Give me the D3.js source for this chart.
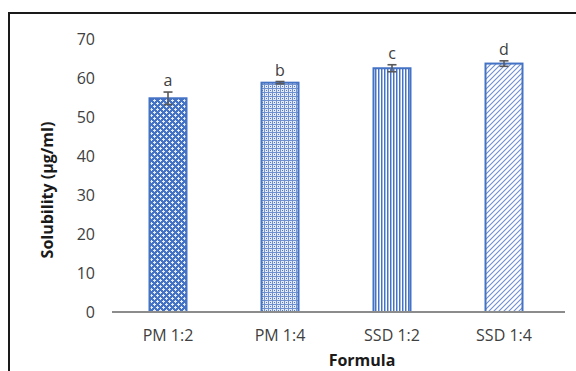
<!DOCTYPE html>
<html><head><meta charset="utf-8">
<script src="https://cdn.jsdelivr.net/npm/d3@7"></script>
<style>
html,body{margin:0;padding:0;background:#fff;}
svg{display:block;font-family:"Open Sans",sans-serif;}
</style></head>
<body>
<svg id="c" width="576" height="371"></svg>
<script>
const categories = ["PM 1:2", "PM 1:4", "SSD 1:2", "SSD 1:4"];
const values = [54.8, 58.8, 62.5, 63.7];
const errors = [1.6, 0.3, 0.9, 0.7];
const letters = ["a", "b", "c", "d"];
const yTicks = [0, 10, 20, 30, 40, 50, 60, 70];
const patternIds = ["p1", "p2", "p3", "p4"];

const svg = d3.select("#c");
const blue = "#4472C4";
const defs = svg.append("defs");

// pattern 1: blue with white diamond lattice
const p1 = defs.append("pattern").attr("id","p1").attr("patternUnits","userSpaceOnUse").attr("width",6).attr("height",6);
p1.append("rect").attr("width",6).attr("height",6).attr("fill",blue);
[[1,0],[0,1],[2,1],[1,2],[4,3],[3,4],[5,4],[4,5],[1,1],[4,4]].forEach(([px,py])=>{
  p1.append("rect").attr("x",px).attr("y",py).attr("width",1).attr("height",1).attr("fill","#e6ecf8");
});
// pattern 2: white with blue dotted grid
const p2 = defs.append("pattern").attr("id","p2").attr("patternUnits","userSpaceOnUse").attr("width",4).attr("height",4);
p2.append("rect").attr("width",4).attr("height",4).attr("fill","#e4ebf7");
p2.append("rect").attr("x",0).attr("y",0).attr("width",4).attr("height",1).attr("fill","#6f91d0");
p2.append("rect").attr("x",0).attr("y",0).attr("width",1).attr("height",4).attr("fill","#6f91d0");
p2.append("rect").attr("x",2).attr("y",2).attr("width",1).attr("height",1).attr("fill","#4f78c6");
// pattern 3: vertical stripes
const p3 = defs.append("pattern").attr("id","p3").attr("patternUnits","userSpaceOnUse").attr("width",3).attr("height",4);
p3.append("rect").attr("width",3).attr("height",4).attr("fill","#ffffff");
p3.append("rect").attr("x",0).attr("width",1.4).attr("height",4).attr("fill",blue);
p3.append("rect").attr("x",1.4).attr("width",0.6).attr("height",4).attr("fill","#9fb6e2");
// pattern 4: upward diagonal
const p4 = defs.append("pattern").attr("id","p4").attr("patternUnits","userSpaceOnUse").attr("width",5).attr("height",5);
p4.append("rect").attr("width",5).attr("height",5).attr("fill","#ffffff");
p4.append("path").attr("d","M-1,6 L6,-1 M-1,1 L1,-1 M4,6 L6,4").attr("stroke","#6f8fd0").attr("stroke-width",1.1);

const x = d3.scaleBand().domain(categories).range([112, 560]).paddingInner(0.67).paddingOuter(0.335);
const y = d3.scaleLinear().domain([0, 70]).range([312, 39]);

// outer border (left and top only visible)
svg.append("path").attr("d","M9,371 L9,13 L576,13").attr("fill","none").attr("stroke","#1a1a1a").attr("stroke-width",2);

// y tick labels
svg.append("g").selectAll("text").data(yTicks).join("text")
  .attr("x", 95).attr("y", d => y(d)).attr("dy","0.35em")
  .attr("text-anchor","end").attr("font-size",16).attr("fill","#404040")
  .text(d => d);

// bars
const bw = 37;
svg.append("g").selectAll("rect").data(values).join("rect")
  .attr("x", (d,i) => x(categories[i]) + x.bandwidth()/2 - bw/2)
  .attr("y", d => y(d))
  .attr("width", bw)
  .attr("height", d => y(0) - y(d))
  .attr("fill", (d,i) => `url(#${patternIds[i]})`)
  .attr("stroke", blue).attr("stroke-width", 2);

// baseline
svg.append("line").attr("x1",112).attr("x2",565).attr("y1",y(0)).attr("y2",y(0))
  .attr("stroke","#8c8c8c").attr("stroke-width",2);

// error bars
const eg = svg.append("g").attr("stroke","#595959").attr("stroke-width",1.6);
values.forEach((v,i) => {
  const cx = x(categories[i]) + x.bandwidth()/2;
  const e = errors[i];
  eg.append("line").attr("x1",cx).attr("x2",cx).attr("y1",y(v+e)).attr("y2",y(v-e));
  eg.append("line").attr("x1",cx-4.5).attr("x2",cx+4.5).attr("y1",y(v+e)).attr("y2",y(v+e));
  eg.append("line").attr("x1",cx-4.5).attr("x2",cx+4.5).attr("y1",y(v-e)).attr("y2",y(v-e));
});

// significance letters
svg.append("g").selectAll("text").data(letters).join("text")
  .attr("x", (d,i) => x(categories[i]) + x.bandwidth()/2)
  .attr("y", (d,i) => y(values[i] + errors[i]) - 6)
  .attr("text-anchor","middle").attr("font-size",16).attr("fill","#404040")
  .text(d => d);

// category labels
svg.append("g").selectAll("text").data(categories).join("text")
  .attr("x", d => x(d) + x.bandwidth()/2).attr("y", 341)
  .attr("text-anchor","middle").attr("font-size",16).attr("fill","#404040")
  .text(d => d);

// axis titles
svg.append("text").attr("x",362).attr("y",366).attr("text-anchor","middle")
  .attr("font-size",16).attr("font-weight","bold").attr("fill","#1a1a1a").text("Formula");
svg.append("text").attr("transform","translate(53,190) rotate(-90)").attr("text-anchor","middle")
  .attr("font-size",16).attr("font-weight","bold").attr("fill","#1a1a1a").text("Solubility (µg/ml)");
</script>
</body></html>
